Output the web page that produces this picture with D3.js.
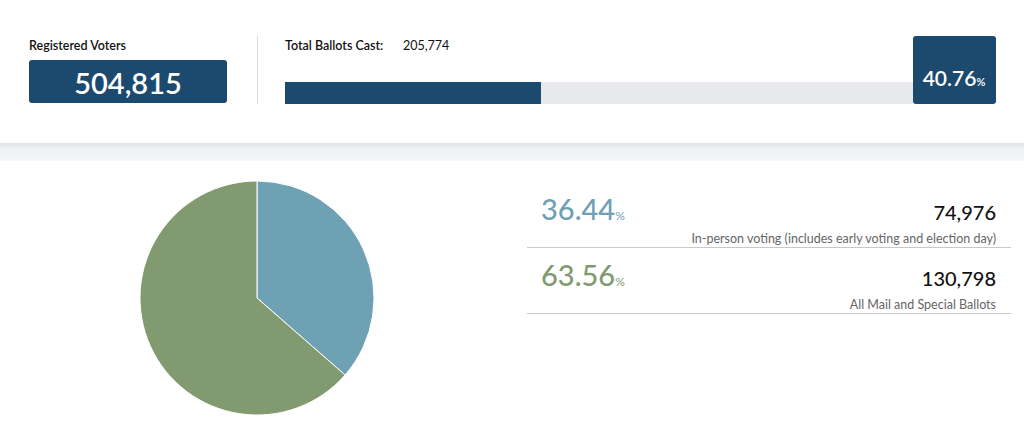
<!DOCTYPE html>
<html><head><meta charset="utf-8">
<script src="https://cdn.jsdelivr.net/npm/d3@7.9.0/dist/d3.min.js"></script>
<style>body{margin:0;background:#fff;font-family:Lato,"Open Sans",sans-serif}</style>
</head><body><svg id="c" width="1024" height="438"></svg>
<script>
// ---------- Data ----------
const registeredVoters = 504815;
const totalBallots = 205774;
const turnoutPct = 40.76;
const methods = ["In-person voting (includes early voting and election day)", "All Mail and Special Ballots"];
const methodCounts = [74976, 130798];
const methodPcts = [36.44, 63.56];
const methodColors = ["#6fa1b4", "#819a70"];

const fmt = d3.format(",");
const navy = "#1b4a6e";
const svg = d3.select("#c");

// ---------- Header card + shadow band ----------
const grad = svg.append("defs").append("linearGradient").attr("id", "sh").attr("x1", 0).attr("x2", 0).attr("y1", 0).attr("y2", 1);
grad.append("stop").attr("offset", 0).attr("stop-color", "#dfe2e4");
grad.append("stop").attr("offset", 0.3).attr("stop-color", "#eef0f1");
grad.append("stop").attr("offset", 1).attr("stop-color", "#f6f7f8");
svg.append("rect").attr("x", 0).attr("y", 143).attr("width", 1024).attr("height", 18).attr("fill", "url(#sh)");

svg.append("text").attr("x", 29).attr("y", 50).attr("font-size", 12.5).attr("font-weight", 600).attr("fill", "#111").text("Registered Voters");
svg.append("rect").attr("x", 29).attr("y", 60).attr("width", 198).attr("height", 43).attr("rx", 3).attr("fill", navy);
svg.append("text").attr("x", 128).attr("y", 94).attr("text-anchor", "middle").attr("font-size", 29).attr("font-weight", 600).attr("fill", "#fff").text(fmt(registeredVoters));
svg.append("line").attr("x1", 257.5).attr("x2", 257.5).attr("y1", 36).attr("y2", 104).attr("stroke", "#ddd");

svg.append("text").attr("x", 285).attr("y", 50).attr("font-size", 12.5).attr("font-weight", 600).attr("fill", "#111").text("Total Ballots Cast:");
svg.append("text").attr("x", 403).attr("y", 50).attr("font-size", 12.5).attr("fill", "#111").text(fmt(totalBallots));

const xBar = d3.scaleLinear().domain([0, 100]).range([285, 913]);
svg.append("rect").attr("x", xBar(0)).attr("y", 82).attr("width", xBar(100) - xBar(0)).attr("height", 22).attr("fill", "#e8e9ec");
svg.append("rect").attr("x", xBar(0)).attr("y", 82).attr("width", xBar(turnoutPct) - xBar(0)).attr("height", 22).attr("fill", navy);
svg.append("rect").attr("x", 913).attr("y", 36).attr("width", 83).attr("height", 68).attr("rx", 3).attr("fill", navy);
const tp = svg.append("text").attr("x", 954).attr("y", 86).attr("text-anchor", "middle").attr("fill", "#fff").attr("font-weight", 600);
tp.append("tspan").attr("font-size", 21).text(turnoutPct.toFixed(2));
tp.append("tspan").attr("font-size", 11).text("%");

// ---------- Pie ----------
const pie = d3.pie().sort(null).value(d => d)(methodCounts);
const arc = d3.arc().innerRadius(0).outerRadius(117);
svg.append("g").attr("transform", "translate(257,298)")
  .selectAll("path").data(pie).join("path")
  .attr("d", arc).attr("fill", (d, i) => methodColors[i]).attr("stroke", "#fff").attr("stroke-width", 1);

// ---------- Legend rows ----------
const rowY = d3.scaleBand().domain(d3.range(methods.length)).range([181, 313]);
methods.forEach((m, i) => {
  const y0 = rowY(i);
  const pt = svg.append("text").attr("x", 541).attr("y", y0 + 39).attr("fill", methodColors[i]);
  pt.append("tspan").attr("font-size", 29).attr("font-weight", 500).text(methodPcts[i].toFixed(2));
  pt.append("tspan").attr("font-size", 12).text("%");
  svg.append("text").attr("x", 996).attr("y", y0 + 39).attr("text-anchor", "end").attr("font-size", 20).attr("font-weight", 500).attr("fill", "#111").text(fmt(methodCounts[i]));
  svg.append("text").attr("x", 996).attr("y", y0 + 62).attr("text-anchor", "end").attr("font-size", 12.5).attr("fill", "#666").text(m);
  svg.append("line").attr("x1", 527).attr("x2", 1011).attr("y1", y0 + 66.5).attr("y2", y0 + 66.5).attr("stroke", "#c8c8c8");
});
</script></body></html>
